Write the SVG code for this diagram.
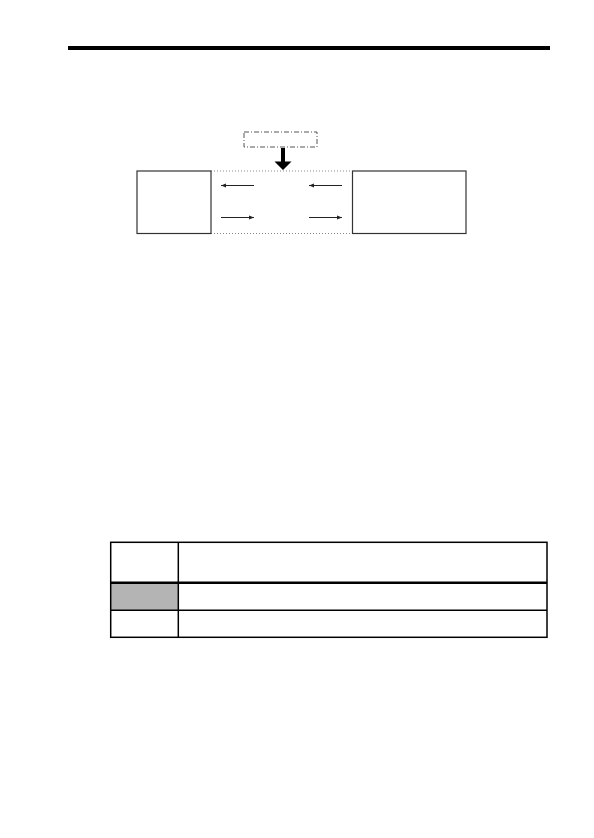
<svg xmlns="http://www.w3.org/2000/svg" width="594" height="838" viewBox="0 0 594 838">
<style>
.box{fill:#fff;stroke:#333;stroke-width:1.2}
.thin{stroke:#222;stroke-width:1;fill:none}
.dot{stroke:#888;stroke-width:1;stroke-dasharray:1 2;fill:none}
.tb{stroke:#000;stroke-width:1.5;fill:none}
</style>
<defs>
<marker id="ah" markerWidth="6" markerHeight="6" refX="5" refY="3" orient="auto" markerUnits="userSpaceOnUse">
<path d="M0,1 L5,3 L0,5 Z" fill="#222"/>
</marker>
</defs>
<rect x="68" y="46" width="482" height="4" fill="#000"/>
<g id="connectors">
<line class="dot" x1="211" y1="171" x2="352" y2="171"/>
<line class="dot" x1="211" y1="233.5" x2="352" y2="233.5"/>
<line class="thin" x1="254" y1="185.5" x2="221" y2="185.5" marker-end="url(#ah)"/>
<line class="thin" x1="342" y1="185.5" x2="309" y2="185.5" marker-end="url(#ah)"/>
<line class="thin" x1="221" y1="217.5" x2="254" y2="217.5" marker-end="url(#ah)"/>
<line class="thin" x1="309" y1="217.5" x2="342" y2="217.5" marker-end="url(#ah)"/>
<path d="M281,148 L285,148 L285,161.5 L291.5,161.5 L283,170 L274.5,161.5 L281,161.5 Z" fill="#000"/>
</g>
<g id="top-box">
<rect x="244" y="132" width="73" height="15" fill="none" stroke="#555" stroke-width="1" stroke-dasharray="5 2 1 2"/>
</g>
<g id="left-box"><rect class="box" x="137" y="171" width="74" height="62.5"/></g>
<g id="right-box"><rect class="box" x="352.5" y="171" width="113.5" height="62.5"/></g>
<g id="table">
<rect x="111" y="583" width="67.5" height="27.5" fill="#b4b4b4"/>
<rect class="tb" x="110.7" y="542.3" width="436.3" height="95"/>
<line class="tb" x1="178.3" y1="542.3" x2="178.3" y2="637.3"/>
<line x1="110.7" y1="582.7" x2="547" y2="582.7" stroke="#000" stroke-width="2.5"/>
<line class="tb" x1="110.7" y1="610.3" x2="547" y2="610.3"/>
</g>
</svg>
